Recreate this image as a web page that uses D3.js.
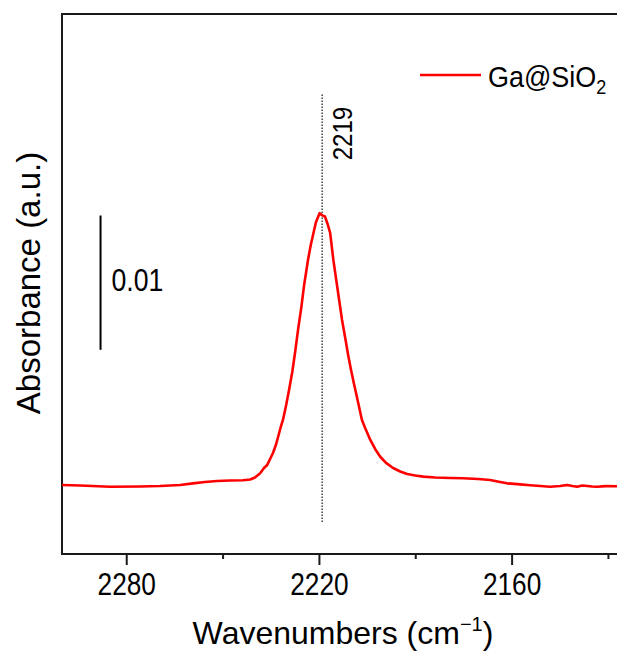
<!DOCTYPE html>
<html>
<head>
<meta charset="utf-8">
<script src="https://cdn.jsdelivr.net/npm/d3@7"></script>
<style>
  body { margin: 0; background: #fff; }
  svg { display: block; }
  text { font-family: "Liberation Sans", Arial, sans-serif; fill: #000; }
</style>
</head>
<body>
<div id="chart"></div>
<script>
// FTIR spectrum, Ga@SiO2, nitrile region.
var wavenumbers = [
  2300, 2294.4, 2285.0, 2275.7, 2269.5, 2263.2, 2259.2, 2255.5, 2251.7, 2247.7,
  2243.6, 2241.4, 2239.9, 2238.3, 2237.1, 2236.1, 2235.2, 2234.3, 2233.3, 2232.7,
  2231.8, 2231.2, 2230.2, 2229.3, 2228.3, 2227.4, 2226.5, 2225.5, 2224.6, 2223.4,
  2222.6, 2221.7, 2220.9, 2219.8, 2219.0, 2218.1, 2217.3, 2216.5, 2215.5, 2214.6,
  2213.7, 2212.8, 2211.8, 2210.9, 2210.0, 2209.0, 2208.1, 2206.6, 2205.6, 2204.0,
  2202.5, 2200.9, 2199.1, 2196.9, 2194.7, 2192.5, 2190.0, 2187.5, 2183.8, 2179.1,
  2175.1, 2170.4, 2166.7, 2163.6, 2161.4, 2157.3, 2154.2, 2151.1, 2148.0, 2144.9,
  2142.7, 2141.1, 2139.6, 2138.0, 2136.4, 2134.9, 2133.3, 2130.8, 2127.1, 2125
];
var absorbance = [
  0.00514, 0.00510, 0.00501, 0.00503, 0.00506, 0.00514, 0.00526, 0.00536, 0.00544, 0.00547,
  0.00549, 0.00555, 0.00570, 0.00601, 0.00640, 0.00663, 0.00707, 0.00752, 0.00819, 0.00873,
  0.00953, 0.00998, 0.01109, 0.01221, 0.01355, 0.01504, 0.01668, 0.01832, 0.02003, 0.02189,
  0.02293, 0.02390, 0.02471, 0.02537, 0.02521, 0.02512, 0.02457, 0.02390, 0.02189, 0.02040,
  0.01891, 0.01742, 0.01608, 0.01482, 0.01370, 0.01258, 0.01162, 0.00998, 0.00938, 0.00849,
  0.00782, 0.00724, 0.00678, 0.00640, 0.00614, 0.00596, 0.00585, 0.00576, 0.00570, 0.00566,
  0.00564, 0.00558, 0.00551, 0.00536, 0.00526, 0.00518, 0.00512, 0.00506, 0.00501, 0.00506,
  0.00514, 0.00506, 0.00501, 0.00510, 0.00506, 0.00503, 0.00501, 0.00505, 0.00504, 0.00504
];
var majorTicks = [2280, 2220, 2160];
var minorTicks = [2250, 2190, 2130];
var xDomain = [2300, 2125];
var yDomain = [0, 0.0402];
var peakPos = 2219;
var peakLine = [0.00238, 0.03425];
var peakLabelAt = 0.0313;
var scaleBarAt = 2288;
var scaleBar = [0.0152, 0.0252];
var seriesName = "Ga@SiO";

var W = 617, H = 652;
var m = { left: 62, top: 14, plotW: 562, plotH: 540 };

var svg = d3.select("#chart").append("svg")
  .attr("width", W).attr("height", H);

var x = d3.scaleLinear().domain(xDomain).range([m.left, m.left + m.plotW]);
var y = d3.scaleLinear().domain(yDomain).range([m.top + m.plotH, m.top]);

var data = wavenumbers.map(function (w, i) { return [w, absorbance[i]]; });

// the figure's text is squeezed horizontally by varying amounts
function label(tx, ty, rot, sx) {
  return svg.append("text")
    .attr("transform", "translate(" + tx + "," + ty + ")" +
      (rot ? " rotate(" + rot + ")" : "") + " scale(" + (sx || 1) + ",1)");
}

// frame
svg.append("rect")
  .attr("x", m.left).attr("y", m.top)
  .attr("width", m.plotW).attr("height", m.plotH)
  .attr("fill", "none").attr("stroke", "#1a1a1a").attr("stroke-width", 2);

// x axis, major + minor ticks
var gx = svg.append("g").attr("transform", "translate(0," + (m.top + m.plotH) + ")");
gx.call(d3.axisBottom(x).tickValues(majorTicks).tickSize(11).tickPadding(7).tickFormat(d3.format("d")));
gx.select(".domain").remove();
gx.selectAll(".tick line").attr("stroke", "#1a1a1a").attr("stroke-width", 2);
gx.selectAll(".tick text").attr("font-size", 32).attr("font-family", null).attr("transform", "scale(0.82,1)");

var gm = svg.append("g").attr("transform", "translate(0," + (m.top + m.plotH) + ")");
gm.call(d3.axisBottom(x).tickValues(minorTicks).tickSize(5).tickFormat(""));
gm.select(".domain").remove();
gm.selectAll(".tick line").attr("stroke", "#1a1a1a").attr("stroke-width", 2);

// peak marker
svg.append("line")
  .attr("x1", x(peakPos)).attr("x2", x(peakPos))
  .attr("y1", y(peakLine[0])).attr("y2", y(peakLine[1]))
  .attr("stroke", "#111").attr("stroke-width", 1.2).attr("stroke-dasharray", "1.5,1.5");

label(x(peakPos) + 30, y(peakLabelAt), -90, 0.86)
  .attr("text-anchor", "middle").attr("font-size", 28)
  .text(String(peakPos));

// spectrum
svg.append("path")
  .datum(data)
  .attr("fill", "none").attr("stroke", "#ff0000").attr("stroke-width", 2.6)
  .attr("stroke-linejoin", "round")
  .attr("d", d3.line().x(function (d) { return x(d[0]); }).y(function (d) { return y(d[1]); }));

// scale bar
svg.append("line")
  .attr("x1", x(scaleBarAt)).attr("x2", x(scaleBarAt))
  .attr("y1", y(scaleBar[0])).attr("y2", y(scaleBar[1]))
  .attr("stroke", "#000").attr("stroke-width", 2);
label(x(scaleBarAt) + 11, y((scaleBar[0] + scaleBar[1]) / 2) + 8, 0, 0.86)
  .attr("font-size", 31)
  .text("0.01");

// legend
svg.append("line")
  .attr("x1", 420).attr("x2", 481).attr("y1", 75).attr("y2", 75)
  .attr("stroke", "#ff0000").attr("stroke-width", 2.6);
var lt = label(488, 87, 0, 0.9).attr("font-size", 30);
lt.append("tspan").text(seriesName);
lt.append("tspan").attr("font-size", 20).attr("dy", 7).text("2");

// axis titles
var xt = label(343, 644).attr("text-anchor", "middle").attr("font-size", 32);
xt.append("tspan").text("Wavenumbers (cm");
xt.append("tspan").attr("font-size", 20).attr("dy", -13).text("\u22121");
xt.append("tspan").attr("dy", 13).text(")");

label(40, 283, -90)
  .attr("text-anchor", "middle").attr("font-size", 33)
  .text("Absorbance (a.u.)");
</script>
</body>
</html>
